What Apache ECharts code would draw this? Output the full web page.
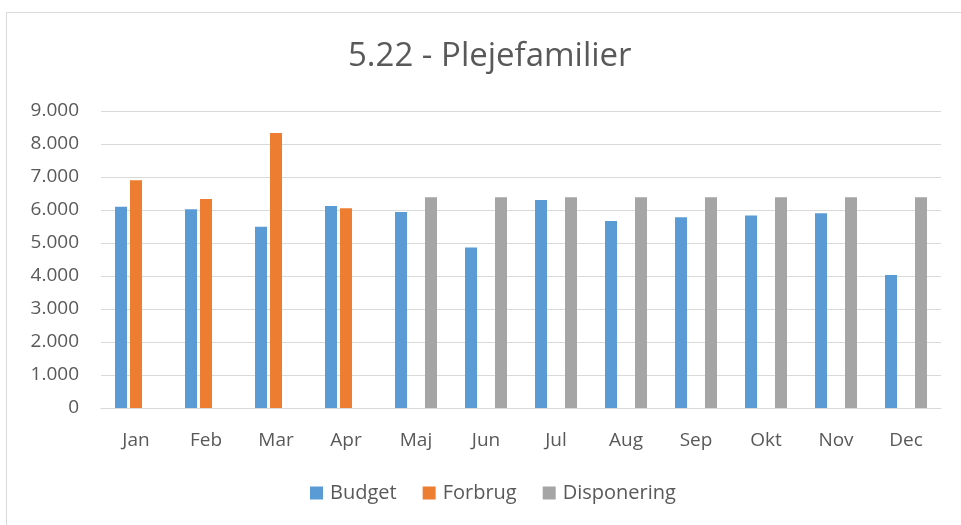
<!DOCTYPE html>
<html>
<head>
<meta charset="utf-8">
<script src="https://cdn.jsdelivr.net/npm/echarts@6/dist/echarts.min.js"></script>
<style>
  html, body { margin: 0; padding: 0; background: #fff; }
  #chart { width: 961px; height: 525px; }
</style>
</head>
<body>
<div id="chart"></div>
<script>
// data
const months = ['Jan', 'Feb', 'Mar', 'Apr', 'Maj', 'Jun', 'Jul', 'Aug', 'Sep', 'Okt', 'Nov', 'Dec']
const budget = [6100, 6020, 5490, 6120, 5940, 4860, 6300, 5670, 5780, 5830, 5900, 4030]
const forbrug = [6900, 6330, 8330, 6050, null, null, null, null, null, null, null, null]
const disponering = [null, null, null, null, 6390, 6390, 6390, 6390, 6390, 6390, 6390, 6390]

const font = 'Open Sans'
const textColor = '#595959'

const chart = echarts.init(document.getElementById('chart'))

const option = {
  backgroundColor: '#fff',
  animation: false,
  textStyle: { fontFamily: font },
  title: {
    text: '5.22 - Plejefamilier',
    left: 348,
    top: 40,
    padding: 0,
    textStyle: { fontFamily: font, fontSize: 33, fontWeight: 'normal', color: textColor }
  },
  legend: {
    bottom: 22,
    left: 310,
    padding: 0,
    itemWidth: 13,
    itemHeight: 13,
    itemGap: 26,
    icon: 'rect',
    textStyle: { fontFamily: font, fontSize: 20, color: textColor, padding: [0, 0, 0, 2] },
    data: ['Budget', 'Forbrug', 'Disponering']
  },
  grid: { left: 101, right: 20, top: 111, bottom: 117 },
  xAxis: {
    type: 'category',
    data: months,
    axisTick: { show: false },
    axisLine: { lineStyle: { color: '#d9d9d9', width: 1 } },
    axisLabel: { color: textColor, fontSize: 19, fontFamily: font, margin: 23 }
  },
  yAxis: {
    type: 'value',
    min: 0,
    max: 9000,
    interval: 1000,
    axisLine: { show: false },
    axisTick: { show: false },
    splitLine: { lineStyle: { color: '#d9d9d9', width: 1 } },
    axisLabel: {
      color: textColor,
      fontSize: 19,
      fontFamily: font,
      margin: 22,
      formatter: (v) => v === 0 ? '0' : v.toString().replace(/\B(?=(\d{3})+(?!\d))/g, '.')
    }
  },
  series: [
    {
      name: 'Budget',
      type: 'bar',
      data: budget,
      barWidth: 12,
      barGap: '25%',
      itemStyle: { color: '#5b9bd5' }
    },
    {
      name: 'Forbrug',
      type: 'bar',
      data: forbrug,
      barWidth: 12,
      barGap: '25%',
      itemStyle: { color: '#ed7d31' }
    },
    {
      name: 'Disponering',
      type: 'bar',
      data: disponering,
      barWidth: 12,
      barGap: '25%',
      itemStyle: { color: '#a5a5a5' }
    }
  ],
  graphic: [
    {
      type: 'rect',
      shape: { x: 6.5, y: 12.5, width: 1000, height: 1000 },
      style: { fill: 'none', stroke: '#d9d9d9', lineWidth: 1 },
      silent: true
    }
  ]
}

chart.setOption(option)
</script>
</body>
</html>
